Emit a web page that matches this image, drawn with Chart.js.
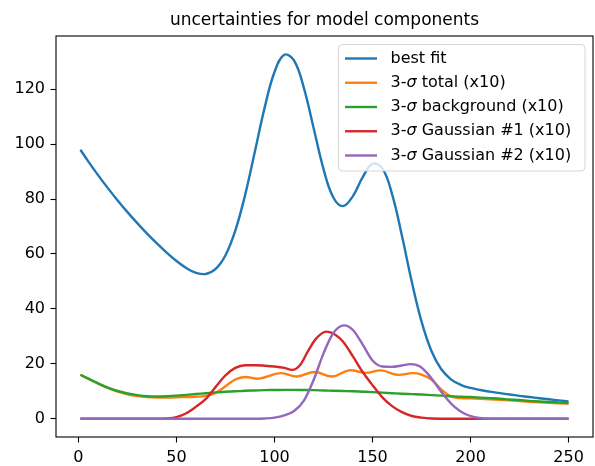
<!DOCTYPE html>
<html>
<head>
<meta charset="utf-8">
<title>uncertainties for model components</title>
<script src="https://cdn.jsdelivr.net/npm/chart.js@4.4.0/dist/chart.umd.min.js"></script>
<style>
    html, body { margin: 0; padding: 0; background: #ffffff; }
    #contenedor { width: 595px; height: 466px; }
</style>
</head>
<body>
<div id="contenedor"><canvas id="incertidumbreChart" width="595" height="466"></canvas></div>
<script>
// Textos del gráfico
const tituloGrafico = 'uncertainties for model components';
const etiquetasSeries = [
    'best fit',
    '3-σ total (x10)',
    '3-σ background (x10)',
    '3-σ Gaussian #1 (x10)',
    '3-σ Gaussian #2 (x10)'
];
const coloresSeries = ['#1f77b4', '#ff7f0e', '#2ca02c', '#d62728', '#9467bd'];

// Marcas de los ejes
const ticksX = [0, 50, 100, 150, 200, 250];
const ticksY = [0, 20, 40, 60, 80, 100, 120];

// Mejor ajuste
const mejorAjusteX = [1, 5, 10, 15, 20, 25, 30, 35, 40, 45, 50, 55, 60, 65, 70, 75, 80, 85, 90, 95, 100, 105, 110, 115, 120, 125, 130, 135, 140, 145, 150, 155, 160, 165, 170, 175, 180, 185, 190, 195, 200, 205, 210, 215, 220, 225, 230, 235, 240, 245, 250];
const mejorAjusteY = [97.94, 93.72, 88.71, 83.96, 79.47, 75.22, 71.20, 67.39, 63.82, 60.47, 57.43, 54.87, 53.11, 52.71, 54.52, 59.51, 68.47, 81.45, 97.28, 113.37, 126.23, 132.51, 130.36, 120.40, 105.70, 90.90, 80.56, 77.42, 81.06, 87.95, 92.76, 91.12, 81.69, 66.59, 49.94, 35.37, 24.78, 18.09, 14.35, 12.36, 11.21, 10.46, 9.85, 9.31, 8.82, 8.34, 7.90, 7.48, 7.08, 6.70, 6.34];

// 3-sigma total (x10)
const totalX = [1, 5, 10, 15, 20, 25, 30, 35, 40, 45, 50, 55, 60, 65, 70, 75, 80, 85, 92, 103, 111.5, 120.5, 129.5, 138, 146.5, 154.5, 162.5, 170.5, 175, 180, 185, 190, 195, 200, 210, 220, 230, 240, 250];
const totalY = [16.0, 14.6, 12.8, 11.2, 9.9, 8.9, 8.3, 7.9, 7.7, 7.7, 7.8, 7.9, 8.0, 8.3, 9.4, 11.8, 14.3, 15.2, 14.6, 16.6, 15.4, 17.0, 15.4, 17.6, 16.7, 17.6, 16.0, 16.6, 16.1, 14.3, 10.7, 8.1, 7.5, 7.4, 7.1, 6.7, 6.2, 5.8, 5.5];

// 3-sigma fondo (x10)
const fondoX = [1, 5, 10, 15, 20, 25, 30, 35, 40, 45, 50, 55, 60, 65, 70, 75, 80, 85, 90, 95, 100, 105, 110, 115, 120, 125, 130, 135, 140, 145, 150, 155, 160, 165, 170, 175, 180, 185, 190, 195, 200, 205, 210, 215, 220, 225, 230, 235, 240, 245, 250];
const fondoY = [16.0, 14.6, 12.9, 11.3, 10.1, 9.2, 8.6, 8.2, 8.1, 8.2, 8.4, 8.7, 9.0, 9.3, 9.6, 9.8, 10.0, 10.2, 10.3, 10.4, 10.45, 10.5, 10.5, 10.45, 10.4, 10.3, 10.2, 10.1, 10.0, 9.85, 9.7, 9.5, 9.3, 9.1, 8.95, 8.8, 8.6, 8.4, 8.2, 8.0, 7.9, 7.7, 7.5, 7.3, 7.0, 6.8, 6.5, 6.3, 6.1, 5.9, 5.7];

// 3-sigma gaussiana 1 (x10)
const gauss1X = [1, 40, 45, 50, 55, 60, 65, 70, 75, 80, 85, 90, 95, 100, 105, 109, 113, 117, 121, 126.5, 131, 135, 140, 145, 150, 155, 160, 165, 170, 175, 180, 190, 250];
const gauss1Y = [0, 0, 0.1, 0.6, 2.0, 4.4, 7.2, 11.6, 15.8, 18.5, 19.5, 19.5, 19.3, 19.0, 18.5, 17.8, 19.5, 24.5, 29.0, 31.7, 30.6, 28.0, 22.7, 17.0, 12.2, 7.8, 4.6, 2.4, 1.0, 0.4, 0.1, 0, 0];

// 3-sigma gaussiana 2 (x10)
const gauss2X = [1, 90, 95, 100, 105, 110, 115, 120, 125, 130, 135.5, 140, 145, 150, 155, 160, 165, 169.5, 174, 178, 182, 187, 192, 197, 202, 207, 215, 250];
const gauss2Y = [0, 0, 0.1, 0.4, 1.2, 2.8, 6.6, 14.2, 23.8, 31.2, 34.0, 32.3, 27.0, 21.2, 19.0, 18.9, 19.4, 19.9, 19.1, 16.5, 12.8, 8.0, 4.2, 1.8, 0.6, 0.1, 0, 0];

const fuente = '"DejaVu Sans", "Liberation Sans", sans-serif';
let incertidumbreChart = null;

// Junta dos arreglos en puntos {x, y}
function aPuntos(xs, ys) {
    return xs.map((x, i) => ({ x: x, y: ys[i] }));
}

// Marco negro alrededor del área de datos y título
const marcoPlugin = {
    id: 'marco',
    afterDatasetsDraw(chart) {
        const { ctx, chartArea: a } = chart;
        ctx.save();
        ctx.strokeStyle = '#000000';
        ctx.lineWidth = 1.1;
        ctx.strokeRect(a.left, a.top, a.right - a.left, a.bottom - a.top);

        ctx.fillStyle = '#000000';
        ctx.font = '17px ' + fuente;
        ctx.textAlign = 'center';
        ctx.textBaseline = 'alphabetic';
        ctx.fillText(tituloGrafico, (a.left + a.right) / 2, a.top - 11);
        ctx.restore();
    }
};

// Leyenda dentro del gráfico, arriba a la derecha
const leyendaPlugin = {
    id: 'leyenda',
    afterDraw(chart) {
        const { ctx, chartArea: a } = chart;
        const tam = 16;
        const derecha = a.right - 8;
        const arriba = a.top + 8.5;
        const alto = 126.5;
        const ancho = 246.5;
        const izquierda = derecha - ancho;
        const filaAlto = 24.25;

        ctx.save();
        // caja redondeada
        const r = 4;
        ctx.beginPath();
        ctx.moveTo(izquierda + r, arriba);
        ctx.lineTo(derecha - r, arriba);
        ctx.arcTo(derecha, arriba, derecha, arriba + r, r);
        ctx.lineTo(derecha, arriba + alto - r);
        ctx.arcTo(derecha, arriba + alto, derecha - r, arriba + alto, r);
        ctx.lineTo(izquierda + r, arriba + alto);
        ctx.arcTo(izquierda, arriba + alto, izquierda, arriba + alto - r, r);
        ctx.lineTo(izquierda, arriba + r);
        ctx.arcTo(izquierda, arriba, izquierda + r, arriba, r);
        ctx.closePath();
        ctx.fillStyle = 'rgba(255, 255, 255, 0.8)';
        ctx.fill();
        ctx.strokeStyle = '#d6d6d6';
        ctx.lineWidth = 1;
        ctx.stroke();

        etiquetasSeries.forEach((texto, i) => {
            const y = arriba + 14 + i * filaAlto;
            ctx.strokeStyle = coloresSeries[i];
            ctx.lineWidth = 2.4;
            ctx.beginPath();
            ctx.moveTo(izquierda + 6.5, y);
            ctx.lineTo(izquierda + 38.5, y);
            ctx.stroke();

            // sigma en cursiva, como en mathtext
            let x = izquierda + 52;
            ctx.fillStyle = '#000000';
            ctx.textAlign = 'left';
            ctx.textBaseline = 'middle';
            const partes = texto.split('σ');
            partes.forEach((parte, j) => {
                ctx.font = tam + 'px ' + fuente;
                ctx.fillText(parte, x, y);
                x += ctx.measureText(parte).width;
                if (j < partes.length - 1) {
                    ctx.font = 'italic ' + tam + 'px ' + fuente;
                    ctx.fillText('σ', x, y);
                    x += ctx.measureText('σ').width;
                }
            });
        });
        ctx.restore();
    }
};

function crearGrafico() {
    const ctx = document.getElementById('incertidumbreChart');
    if (!ctx) {
        console.error('No se encontró el canvas');
        return;
    }

    const pares = [
        [mejorAjusteX, mejorAjusteY],
        [totalX, totalY],
        [fondoX, fondoY],
        [gauss1X, gauss1Y],
        [gauss2X, gauss2Y]
    ];

    const datasets = pares.map((p, i) => ({
        label: etiquetasSeries[i],
        data: aPuntos(p[0], p[1]),
        borderColor: coloresSeries[i],
        backgroundColor: coloresSeries[i],
        borderWidth: 2.4,
        pointRadius: 0,
        fill: false,
        // curva suave para el ajuste y el total, monótona para las que tocan cero
        cubicInterpolationMode: i < 2 ? 'default' : 'monotone',
        tension: 0.4,
        // la última serie queda encima, como en matplotlib
        order: pares.length - i
    }));

    const ejeComun = {
        type: 'linear',
        grid: {
            display: true,
            drawOnChartArea: false,
            drawTicks: true,
            tickLength: 5.5,
            tickWidth: 1.1,
            tickColor: '#000000'
        },
        border: { display: false },
        ticks: {
            color: '#000000',
            padding: 5.5,
            font: { family: fuente, size: 16 }
        }
    };

    incertidumbreChart = new Chart(ctx, {
        type: 'line',
        data: { datasets: datasets },
        options: {
            responsive: false,
            animation: false,
            layout: { padding: { top: 36, right: 2, bottom: 0, left: 0 } },
            plugins: {
                legend: { display: false },
                title: { display: false },
                tooltip: { enabled: false }
            },
            scales: {
                x: Object.assign({}, ejeComun, {
                    position: 'bottom',
                    min: -11.45,
                    max: 262.45,
                    afterBuildTicks: (eje) => { eje.ticks = ticksX.map(v => ({ value: v })); },
                    afterFit: (eje) => { eje.height = 29; }
                }),
                y: Object.assign({}, ejeComun, {
                    position: 'left',
                    min: -6.65,
                    max: 139.35,
                    afterBuildTicks: (eje) => { eje.ticks = ticksY.map(v => ({ value: v })); },
                    afterFit: (eje) => { eje.width = 56; }
                })
            }
        },
        plugins: [marcoPlugin, leyendaPlugin]
    });
}

document.addEventListener('DOMContentLoaded', function() {
    crearGrafico();
});
</script>
</body>
</html>
